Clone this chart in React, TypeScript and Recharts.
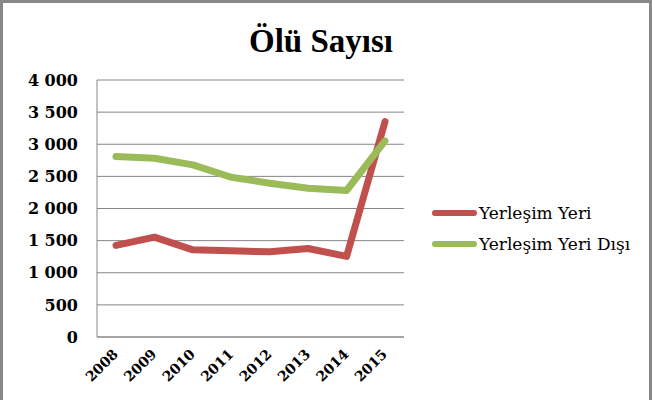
import { LineChart, Line, XAxis, YAxis, CartesianGrid } from "recharts";

const years = ["2008", "2009", "2010", "2011", "2012", "2013", "2014", "2015"];
const yerlesimYeri = [1425, 1554, 1357, 1342, 1326, 1378, 1254, 3352];
const yerlesimYeriDisi = [2808, 2782, 2679, 2487, 2394, 2316, 2280, 3052];
const yTicks = [0, 500, 1000, 1500, 2000, 2500, 3000, 3500, 4000];

const RED = "#C0504D";
const GREEN = "#9BBB59";
const GRID = "#868686";

const data = years.map((y, i) => ({
  year: y,
  "Yerleşim Yeri": yerlesimYeri[i],
  "Yerleşim Yeri Dışı": yerlesimYeriDisi[i],
}));

const legendItems = [
  { name: "Yerleşim Yeri", color: RED },
  { name: "Yerleşim Yeri Dışı", color: GREEN },
];

const fmt = (n: number) =>
  n >= 1000 ? `${Math.floor(n / 1000)} ${String(n % 1000).padStart(3, "0")}` : String(n);

function YearTick({ x, y, payload }: any) {
  const ax = x + 3;
  const ay = y + 10;
  return (
    <text
      x={ax}
      y={ay}
      transform={`rotate(-45 ${ax} ${ay})`}
      textAnchor="end"
      fontFamily="DejaVu Serif"
      fontWeight="bold"
      fontSize={14}
      fill="#000"
    >
      {payload.value}
    </text>
  );
}

export default function App() {
  return (
    <div style={{ position: "fixed", left: 0, top: 0, width: 652, height: 400, background: "#fff" }}>
      <div
        style={{
          position: "absolute",
          left: 0,
          top: 25,
          width: 642,
          textAlign: "center",
          fontFamily: "Liberation Serif",
          fontWeight: "bold",
          fontSize: 33,
          lineHeight: "33px",
          color: "#000",
        }}
      >
        Ölü Sayısı
      </div>
      <LineChart
        width={652}
        height={400}
        data={data}
        margin={{ top: 80, right: 248, bottom: 33, left: 0 }}
      >
        <CartesianGrid vertical={false} stroke={GRID} />
        <XAxis
          dataKey="year"
          height={30}
          stroke={GRID}
          tickLine={false}
          interval={0}
          padding={{ left: 19, right: 19 }}
          tick={<YearTick />}
        />
        <YAxis
          width={97}
          domain={[0, 4000]}
          ticks={yTicks}
          tickFormatter={fmt}
          stroke={GRID}
          tickLine={false}
          tickSize={17}
          tick={{ fill: "#000", fontFamily: "DejaVu Serif", fontWeight: "bold", fontSize: 16 }}
        />
        <Line
          dataKey="Yerleşim Yeri"
          stroke={RED}
          strokeWidth={7}
          strokeLinecap="round"
          strokeLinejoin="round"
          dot={false}
          isAnimationActive={false}
        />
        <Line
          dataKey="Yerleşim Yeri Dışı"
          stroke={GREEN}
          strokeWidth={7}
          strokeLinecap="round"
          strokeLinejoin="round"
          dot={false}
          isAnimationActive={false}
        />
      </LineChart>
      <div
        style={{
          position: "absolute",
          left: 432,
          top: 197,
          fontFamily: "DejaVu Serif",
          fontSize: 17,
          color: "#000",
        }}
      >
        {legendItems.map((it) => (
          <div key={it.name} style={{ display: "flex", alignItems: "center", height: 31 }}>
            <span
              style={{ display: "inline-block", width: 45, height: 6, borderRadius: 3, background: it.color, marginRight: 2 }}
            />
            <span>{it.name}</span>
          </div>
        ))}
      </div>
      <div
        style={{
          position: "absolute",
          left: 0,
          top: 0,
          width: 652,
          height: 400,
          boxSizing: "border-box",
          borderTop: "3px solid #888",
          borderLeft: "3px solid #888",
          borderRight: "3px solid #888",
          pointerEvents: "none",
        }}
      />
    </div>
  );
}
